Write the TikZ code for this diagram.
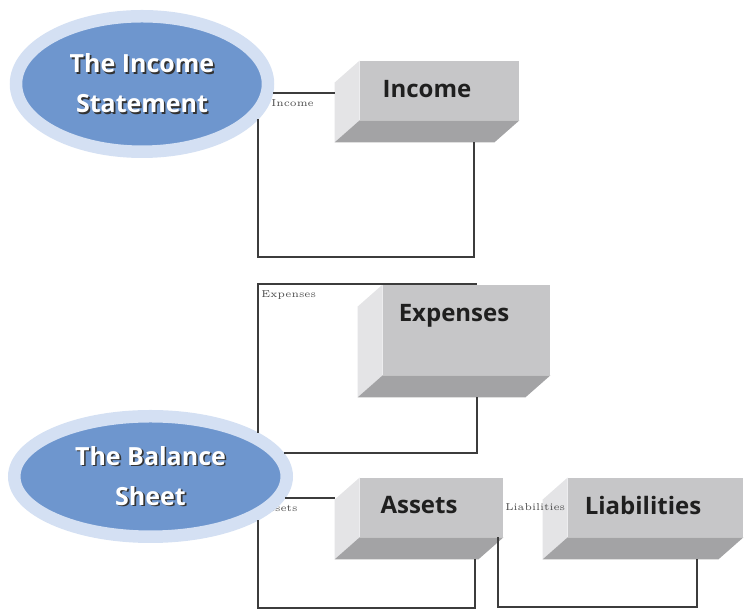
\documentclass[tikz,border=0pt]{standalone}
\usepackage{fontspec}
\newfontfamily\boxfont{Open Sans}
\usetikzlibrary{shapes.geometric,calc}

\definecolor{ovalblue}{RGB}{110,150,206}
\definecolor{ovalring}{RGB}{212,224,243}
\definecolor{facefront}{RGB}{198,198,200}
\definecolor{faceside}{RGB}{228,228,230}
\definecolor{facebottom}{RGB}{163,163,165}
\definecolor{linkgray}{RGB}{60,60,60}

% white words with a dark shadow
\newcommand{\ovalword}[1]{\leavevmode\rlap{\hspace{0.8pt}\raisebox{-0.8pt}{\textcolor{black!80}{#1}}}\textcolor{white}{#1}}

\begin{document}
\begin{tikzpicture}[x=0.5pt, y=-0.5pt,
  oval/.style={ellipse, fill=ovalblue, draw=ovalring, line width=6.25pt, align=center, inner sep=0pt,
    font=\boxfont\bfseries\fontsize{12.5}{20}\selectfont},
  front/.style={rectangle, fill=facefront, inner sep=0pt},
  boxtext/.style={font=\boxfont\bfseries\fontsize{12}{14}\selectfont, text=black!88},
  tag/.style={font=\fontsize{5}{6}\selectfont, text=black!70, inner sep=0pt},
  link/.style={draw=linkgray, line width=1pt}]
\useasboundingbox (0,0) rectangle (746,613);
% Set the depth of the boxes
\def\dx{-25}
\def\dy{22}

% Draw the boxes (front, left side and bottom)
\node[front, minimum width=79.5pt, minimum height=29.5pt] (income) at (439.5,90.5) {};
\fill[faceside] (income.north west) -- ($(income.north west)+(\dx,\dy)$) -- ($(income.south west)+(\dx,\dy)$) -- (income.south west) -- cycle;
\fill[facebottom] (income.south west) -- (income.south east) -- ($(income.south east)+(\dx,\dy)$) -- ($(income.south west)+(\dx,\dy)$) -- cycle;
\node[boxtext] (incometxt) at ([shift={(-12.5,-1)}]income.center) {Income};

\node[front, minimum width=83.5pt, minimum height=45pt] (expense) at (466.5,330) {};
\fill[faceside] (expense.north west) -- ($(expense.north west)+(\dx,\dy)$) -- ($(expense.south west)+(\dx,\dy)$) -- (expense.south west) -- cycle;
\fill[facebottom] (expense.south west) -- (expense.south east) -- ($(expense.south east)+(\dx,\dy)$) -- ($(expense.south west)+(\dx,\dy)$) -- cycle;
\node[boxtext] (expensetxt) at ([shift={(-12.5,-14)}]expense.center) {Expenses};

\node[front, minimum width=71.5pt, minimum height=29.5pt] (assets) at (431.5,507.5) {};
\fill[faceside] (assets.north west) -- ($(assets.north west)+(\dx,\dy)$) -- ($(assets.south west)+(\dx,\dy)$) -- (assets.south west) -- cycle;
\fill[facebottom] (assets.south west) -- (assets.south east) -- ($(assets.south east)+(\dx,\dy)$) -- ($(assets.south west)+(\dx,\dy)$) -- cycle;
\node[boxtext] (assetstxt) at ([shift={(-12.5,-2)}]assets.center) {Assets};

\node[front, minimum width=87.5pt, minimum height=29.5pt] (liab) at (655.5,507.5) {};
\fill[faceside] (liab.north west) -- ($(liab.north west)+(\dx,\dy)$) -- ($(liab.south west)+(\dx,\dy)$) -- (liab.south west) -- cycle;
\fill[facebottom] (liab.south west) -- (liab.south east) -- ($(liab.south east)+(\dx,\dy)$) -- ($(liab.south west)+(\dx,\dy)$) -- cycle;
\node[boxtext] (liabtxt) at ([shift={(-12.5,-2)}]liab.center) {Liabilities};

% Left edge and bottom of each box
\coordinate (income-l) at ($(income.west)+(\dx,0)$);
\coordinate (income-b) at ($(income.south)+(0,\dy)$);
\coordinate (expense-b) at ($(expense.south)+(0,\dy)$);
\coordinate (assets-l) at ($(assets.west)+(\dx,0)$);
\coordinate (assets-b) at ($(assets.south)+(0,\dy)$);
\coordinate (liab-l) at ($(liab.west)+(\dx,0)$);
\coordinate (liab-b) at ($(liab.south)+(0,\dy)$);

% Small tags
\node[tag, anchor=north west] (inctag) at (271,99) {Income};
\node[tag, anchor=north west] (exptag) at (261,290) {Expenses};
\node[tag, anchor=east] (asstag) at (298,508) {Assets};
\node[tag, anchor=west] (liabtag) at (505,507) {Liabilities};

% Draw the two ovals
\node[oval, minimum width=126pt, minimum height=67.75pt] (incs) at (142,84) {\ovalword{The Income}\\\ovalword{Statement}};
\node[oval, minimum width=136.25pt, minimum height=60.25pt] (bal) at (150.5,476.5) {\ovalword{The Balance}\\\ovalword{Sheet}};

% Connectors
\coordinate (incfoot) at (474,257);
\draw[link] (incs.-4) -- (incs.-4 -| income-l);
\draw[link] (incs.-17) |- (incfoot) -- (incfoot |- income-b);

\coordinate (exptop) at (477,284);
\draw[link] (bal.22) |- (exptop);
\draw[link] (bal.10) -| (exptop |- expense-b);

\coordinate (assfoot) at (475,608);
\draw[link] (bal.-9) -- (bal.-9 -| assets-l);
\draw[link] (bal.-22) |- (assfoot) -- (assfoot |- assets-b);

\coordinate (liabfoot) at (697,607);
\draw[link] ($(assets.east)+(2,-10.5)$) -- ($(assets.east)+(2,-10.5)$ -| liab-l);
\draw[link] ($(assets.south east)+(-5,0)$) |- (liabfoot) -- (liabfoot |- liab-b);
\end{tikzpicture}
\end{document}
